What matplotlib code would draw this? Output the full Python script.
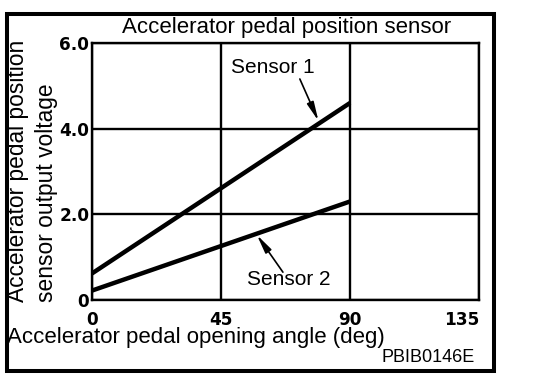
import matplotlib.pyplot as plt
from matplotlib.patches import Rectangle

angle = [0, 90]
sensor1 = [0.62, 4.6]
sensor2 = [0.22, 2.3]

xticks = [0, 45, 90, 135]
xtick_labels = ['0', '45', '90', '135']
yticks = [0, 2, 4, 6]
ytick_labels = ['0', '2.0', '4.0', '6.0']

fig = plt.figure(figsize=(5.44, 3.84), dpi=100)
plt.rcParams['font.family'] = ['Liberation Sans', 'DejaVu Sans']

ax = fig.add_axes([92 / 544, 1 - 300 / 384, 387 / 544, 257 / 384])
ax.set_xlim(0, 135)
ax.set_ylim(0, 6)

ax.plot(angle, sensor1, color='black', lw=3.2, solid_capstyle='butt')
ax.plot(angle, sensor2, color='black', lw=3.2, solid_capstyle='butt')

ax.set_xticks(xticks)
ax.set_xticklabels(xtick_labels, family='DejaVu Sans', fontweight='bold', fontsize=12.2)
ax.get_xticklabels()[-1].set_horizontalalignment('right')
ax.set_yticks(yticks)
ax.set_yticklabels(ytick_labels, family='DejaVu Sans', fontweight='bold', fontsize=12.2)
ax.tick_params(axis='x', length=0, pad=8)
ax.tick_params(axis='y', length=0, pad=2)
ax.grid(True, color='black', lw=1.7)
for s in ax.spines.values():
    s.set_linewidth(1.7)

# sensor labels with arrows
ax.text(63, 5.42, 'Sensor 1', ha='center', va='center', fontsize=15)
ax.annotate('', xy=(79, 4.18), xytext=(72.5, 5.16),
            arrowprops=dict(arrowstyle='-|>,head_width=0.15,head_length=0.8',
                            color='black', lw=1.2, mutation_scale=14,
                            shrinkA=0, shrinkB=0))
ax.text(68.5, 0.47, 'Sensor 2', ha='center', va='center', fontsize=15)
ax.annotate('', xy=(57.5, 1.52), xytext=(66.6, 0.65),
            arrowprops=dict(arrowstyle='-|>,head_width=0.15,head_length=0.8',
                            color='black', lw=1.2, mutation_scale=14,
                            shrinkA=0, shrinkB=0))

fig.text(287 / 544, 1 - 27 / 384, 'Accelerator pedal position sensor',
         ha='center', va='center', fontsize=16)
fig.text(18 / 544, 1 - 302 / 384, 'Accelerator pedal position',
         rotation=90, ha='center', va='bottom', fontsize=16.4)
fig.text(47 / 544, 1 - 302 / 384, 'sensor output voltage',
         rotation=90, ha='center', va='bottom', fontsize=16.4)
fig.text(7 / 544, 1 - 338 / 384, 'Accelerator pedal opening angle (deg)',
         ha='left', va='center', fontsize=16)
fig.text(475 / 544, 1 - 357 / 384, 'PBIB0146E',
         ha='right', va='center', fontsize=13)

fig.patches.append(Rectangle((7 / 544, 1 - 371 / 384), 487 / 544, 357 / 384,
                             transform=fig.transFigure, fill=False,
                             edgecolor='black', lw=2.9))

fig.savefig('out.png', dpi=100)
